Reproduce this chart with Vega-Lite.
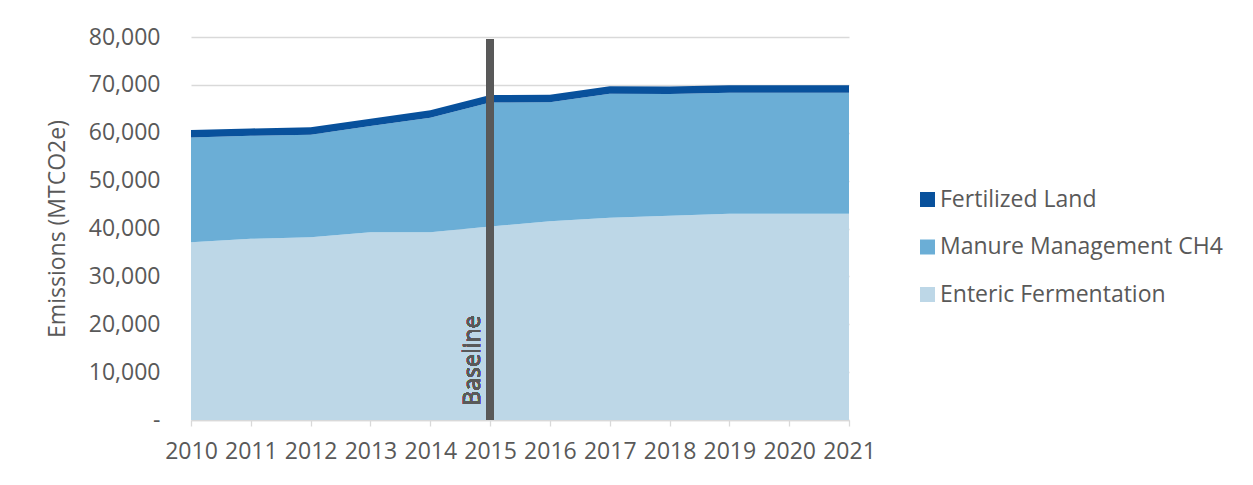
{
  "$schema": "https://vega.github.io/schema/vega-lite/v6.json",
  "autosize": "none",
  "width": 658,
  "height": 383,
  "padding": {"left": 191, "top": 37, "right": 404, "bottom": 65},
  "background": "white",
  "config": {
    "view": {"stroke": null},
    "font": "Open Sans"
  },
  "data": {
    "values": [
      {"year": 2010, "source": "Enteric Fermentation", "value": 37150},
      {"year": 2011, "source": "Enteric Fermentation", "value": 37850},
      {"year": 2012, "source": "Enteric Fermentation", "value": 38190},
      {"year": 2013, "source": "Enteric Fermentation", "value": 39230},
      {"year": 2014, "source": "Enteric Fermentation", "value": 39230},
      {"year": 2015, "source": "Enteric Fermentation", "value": 40420},
      {"year": 2016, "source": "Enteric Fermentation", "value": 41530},
      {"year": 2017, "source": "Enteric Fermentation", "value": 42220},
      {"year": 2018, "source": "Enteric Fermentation", "value": 42640},
      {"year": 2019, "source": "Enteric Fermentation", "value": 43060},
      {"year": 2020, "source": "Enteric Fermentation", "value": 43060},
      {"year": 2021, "source": "Enteric Fermentation", "value": 43060},
      {"year": 2010, "source": "Manure Management CH4", "value": 21870},
      {"year": 2011, "source": "Manure Management CH4", "value": 21500},
      {"year": 2012, "source": "Manure Management CH4", "value": 21400},
      {"year": 2013, "source": "Manure Management CH4", "value": 22170},
      {"year": 2014, "source": "Manure Management CH4", "value": 23900},
      {"year": 2015, "source": "Manure Management CH4", "value": 25900},
      {"year": 2016, "source": "Manure Management CH4", "value": 24850},
      {"year": 2017, "source": "Manure Management CH4", "value": 25950},
      {"year": 2018, "source": "Manure Management CH4", "value": 25450},
      {"year": 2019, "source": "Manure Management CH4", "value": 25300},
      {"year": 2020, "source": "Manure Management CH4", "value": 25300},
      {"year": 2021, "source": "Manure Management CH4", "value": 25300},
      {"year": 2010, "source": "Fertilized Land", "value": 1550},
      {"year": 2011, "source": "Fertilized Land", "value": 1550},
      {"year": 2012, "source": "Fertilized Land", "value": 1550},
      {"year": 2013, "source": "Fertilized Land", "value": 1550},
      {"year": 2014, "source": "Fertilized Land", "value": 1550},
      {"year": 2015, "source": "Fertilized Land", "value": 1550},
      {"year": 2016, "source": "Fertilized Land", "value": 1550},
      {"year": 2017, "source": "Fertilized Land", "value": 1550},
      {"year": 2018, "source": "Fertilized Land", "value": 1550},
      {"year": 2019, "source": "Fertilized Land", "value": 1550},
      {"year": 2020, "source": "Fertilized Land", "value": 1550},
      {"year": 2021, "source": "Fertilized Land", "value": 1550}
    ]
  },
  "layer": [
    {
      "transform": [
        {"calculate": "indexof(['Enteric Fermentation','Manure Management CH4','Fertilized Land'], datum.source)", "as": "stackOrder"}
      ],
      "mark": {"type": "area", "opacity": 1},
      "encoding": {
        "x": {
          "field": "year",
          "type": "quantitative",
          "scale": {"domain": [2010, 2021], "nice": false, "zero": false},
          "axis": {
            "values": [2010, 2011, 2012, 2013, 2014, 2015, 2016, 2017, 2018, 2019, 2020, 2021],
            "format": "d",
            "title": null,
            "grid": false,
            "domainColor": "#d9d9d9",
            "domainWidth": 1.3,
            "tickColor": "#d9d9d9",
            "tickWidth": 1.3,
            "tickSize": 6,
            "labelPadding": 14,
            "labelFontSize": 23,
            "labelColor": "#595959",
            "labelFlush": false,
            "labelOverlap": false
          }
        },
        "y": {
          "field": "value",
          "type": "quantitative",
          "stack": "zero",
          "scale": {"domain": [0, 80000], "nice": false},
          "axis": {
            "values": [0, 10000, 20000, 30000, 40000, 50000, 60000, 70000, 80000],
            "labelExpr": "datum.value == 0 ? '-' : format(datum.value, ',')",
            "title": "Emissions (MTCO2e)",
            "titleFontSize": 23,
            "titleFontWeight": "normal",
            "titleColor": "#595959",
            "titlePadding": 19,
            "labelFontSize": 23,
            "labelColor": "#595959",
            "labelPadding": 31,
            "domain": false,
            "ticks": false,
            "gridColor": "#d9d9d9",
            "gridWidth": 1.3
          }
        },
        "order": {"field": "stackOrder", "type": "quantitative"},
        "color": {
          "field": "source",
          "type": "nominal",
          "scale": {
            "domain": ["Fertilized Land", "Manure Management CH4", "Enteric Fermentation"],
            "range": ["#08519c", "#6baed6", "#bdd7e7"]
          },
          "legend": {
            "title": null,
            "orient": "none",
            "legendX": 725,
            "legendY": 151,
            "padding": 0,
            "symbolType": "square",
            "symbolSize": 225,
            "symbolStrokeWidth": 0,
            "labelFontSize": 23,
            "labelColor": "#595959",
            "labelOffset": 1,
            "rowPadding": 23.5,
            "labelLimit": 400
          }
        }
      }
    },
    {
      "mark": {"type": "rule", "color": "#595959", "strokeWidth": 7},
      "encoding": {
        "x": {"datum": 2015, "type": "quantitative"},
        "y": {"datum": 0, "type": "quantitative"},
        "y2": {"datum": 79500}
      }
    },
    {
      "mark": {
        "type": "text",
        "text": "Baseline",
        "angle": 270,
        "align": "left",
        "baseline": "bottom",
        "dy": -5,
        "fontSize": 23,
        "color": "#595959"
      },
      "encoding": {
        "x": {"datum": 2015, "type": "quantitative"},
        "y": {"datum": 3000, "type": "quantitative"}
      }
    }
  ]
}
